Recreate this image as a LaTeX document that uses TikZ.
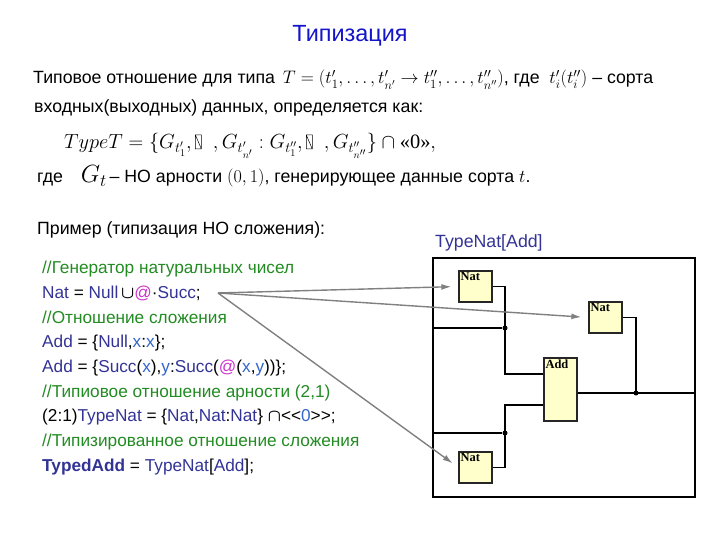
\RequirePackage{fix-cm}
\documentclass[tikz,border=0pt]{standalone}
\usepackage{amsmath,amssymb}
\usepackage{fontspec}
\setmainfont{Liberation Sans}
\newfontfamily\timesfont{Liberation Serif}
\usetikzlibrary{positioning,arrows.meta}

\definecolor{titleblue}{RGB}{20,20,200}
\definecolor{codeblue}{RGB}{51,51,150}
\definecolor{commgreen}{RGB}{34,139,34}
\definecolor{varblue}{RGB}{51,102,204}
\definecolor{atpink}{RGB}{204,51,204}
\definecolor{boxyellow}{RGB}{255,255,204}
\definecolor{linkgray}{RGB}{128,128,128}

\newcommand\kid[1]{\textcolor{codeblue}{#1}}
\newcommand\kvar[1]{\textcolor{varblue}{#1}}
\newcommand\kat{\textcolor{atpink}{@}}
\newcommand\gapbox{\tikz[baseline=0pt]\draw[line width=.5bp] (0bp,0bp) rectangle (6bp,14bp) (0bp,14bp) -- (6bp,0bp);}
\newcommand\bigmath{\fontsize{18.2}{22}\selectfont}

\tikzset{
  txt/.style={anchor=base west, inner sep=0pt, font=\fontsize{17.8}{21}\selectfont},
  code/.style={anchor=base west, inner sep=0pt, font=\fontsize{17.3}{20}\selectfont},
  sortbox/.style={draw=black!85, line width=1.3bp, fill=boxyellow, minimum width=33bp, minimum height=31bp, inner sep=0pt},
  boxlbl/.style={anchor=north west, inner sep=2bp, font=\timesfont\bfseries\fontsize{12.5}{14}\selectfont},
  wire/.style={line width=1.1bp},
  link/.style={draw=linkgray, line width=1.4bp, -{Latex[length=10bp,width=6bp]}, shorten >=7bp},
  joint/.style={circle, fill, inner sep=0pt, minimum size=5bp},
}

\begin{document}
\begin{tikzpicture}[x=1bp, y=-1bp]
\useasboundingbox (0,0) rectangle (720,540);

% title and definition
\node[anchor=base, text=titleblue, inner sep=0pt, font=\fontsize{23.5}{28}\selectfont] (title) at (350,42) {Типизация};

\node[txt] (def1) at (33,84) {Типовое отношение для типа\, {\bigmath$T=(t'_1,\ldots,t'_{n'}\to t''_1,\ldots,t''_{n''})$,} где\; {\bigmath$t'_i(t''_i)$} – сорта};
\node[txt] (def2) at (34,113) {входных(выходных) данных, определяется как:};
\node[txt, font=\fontsize{20.5}{25}\selectfont] (def3) at (64,149) {$TypeT=\{G_{t'_1},\gapbox\;\;,G_{t'_{n'}}:G_{t''_1},\gapbox\;\;,G_{t''_{n''}}\}\cap\text{\timesfont «0»},$};
\node[txt] (def4) at (37,183) {где\quad {\fontsize{25}{28}\selectfont$G_t$}\,– НО арности {\bigmath$(0,1)$}, генерирующее данные сорта {\bigmath$t$}.};

\node[txt] (example) at (37,235) {Пример (типизация НО сложения):};

% code
\node[code] (c1) at (42,274) {\textcolor{commgreen}{//Генератор натуральных чисел}};
\node[code] (c2) at (42,298.6) {\kid{Nat} = \kid{Null}\,{\boldmath$\cup$}\kat·\kid{Succ};};
\node[code] (c3) at (42,323.2) {\textcolor{commgreen}{//Отношение сложения}};
\node[code] (c4) at (42,347.9) {\kid{Add} = \{\kid{Null},\kvar{x}:\kvar{x}\};};
\node[code] (c5) at (42,372.5) {\kid{Add} = \{\kid{Succ}(\kvar{x}),\kvar{y}:\kid{Succ}(\kat(\kvar{x},\kvar{y}))\};};
\node[code] (c6) at (42,397.1) {\textcolor{commgreen}{//Типиовое отношение арности (2,1)}};
\node[code] (c7) at (42,421.7) {(2:1)\kid{TypeNat} = \{\kid{Nat},\kid{Nat}:\kid{Nat}\} {\boldmath$\cap$}<{}<\kvar{0}>{}>;};
\node[code] (c8) at (42,446.4) {\textcolor{commgreen}{//Типизированное отношение сложения}};
\node[code] (c9) at (42,471) {\kid{\bfseries TypedAdd} = \kid{TypeNat}[\kid{Add}];};

% TypeNat[Add] scheme
\node[draw, line width=1.2bp, minimum width=262bp, minimum height=239bp, inner sep=0pt] (frame) at (564,377.5) {};
\node[code, text=codeblue, font=\fontsize{17.8}{21}\selectfont] (frametitle) at (435,248) {TypeNat[Add]};

\node[sortbox, label={[boxlbl]north west:Nat}] (nat1) at (475.5,286.5) {};
\node[sortbox, label={[boxlbl]north west:Nat}] (nat2) at (605.5,317.5) {};
\node[sortbox, label={[boxlbl]north west:Nat}] (nat3) at (475.5,467.5) {};
\node[sortbox, minimum height=63bp, label={[boxlbl]north west:Add}] (add) at (560.5,389.5) {};

\node[joint] (j1) at (505,328) {};
\node[joint] (j2) at (636,393) {};
\node[joint] (j3) at (505,433) {};

\draw[wire] (nat1.east) -| (j1.center) |- ([yshift=15.5bp]add.west);
\draw[wire] (nat3.east) -| (j3.center) |- ([yshift=-15.5bp]add.west);
\draw[wire] (nat2.east) -| (j2.center);
\draw[wire] (add.east |- j2) -- (frame.east |- j2);
\draw[wire] (frame.west |- j1) -- (j1);
\draw[wire] (frame.west |- j3) -- (j3);

% links from the generator
\coordinate (src) at (218,293);
\draw[link] (src) -- (nat1.west);
\draw[link] (src) -- (nat2.west);
\draw[link] (src) -- (nat3.west);

\end{tikzpicture}
\end{document}
